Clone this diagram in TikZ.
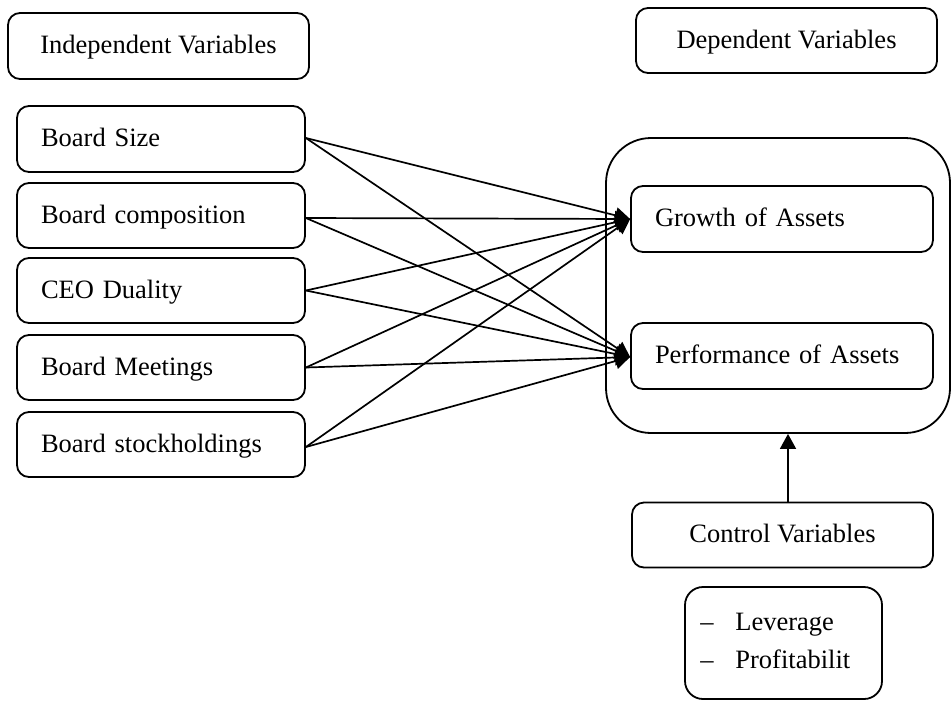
\documentclass[tikz,border=0pt]{standalone}
\usepackage{fontspec}
\setmainfont{Liberation Serif}
\usetikzlibrary{arrows.meta}
\begin{document}
\begin{tikzpicture}[x=0.5pt,y=-0.5pt,
  font=\fontsize{13.25pt}{16pt}\selectfont,
  box/.style={draw, line width=0.9pt, rounded corners=6pt, inner ysep=0pt,
    text height=9.75pt, text depth=2.25pt},
  lbox/.style={box, minimum height=32.5pt, inner xsep=12pt, text width=120pt, align=left},
  rbox/.style={box, minimum height=33pt, inner xsep=12pt, text width=127pt, align=left},
  cbox/.style={box, minimum height=32.5pt, minimum width=150.5pt, align=center},
  link/.style={line width=0.85pt, -{Triangle[length=7.5pt,width=8pt]}}]
\useasboundingbox (0,0) rectangle (951,702);

% column headings
\node[cbox, minimum height=33pt] (indep) at (158.5,46) {Independent Variables};
\node[cbox] (dephead) at (786.5,40.5) {Dependent Variables};

% independent variables
\node[lbox, minimum height=33pt] (bsize) at (161,139) {Board Size};
\node[lbox] (bcomp) at (161,215.5) {Board composition};
\node[lbox] (ceo)   at (161,290.5) {CEO Duality};
\node[lbox] (bmeet) at (161,367.5) {Board Meetings};
\node[lbox] (bstock) at (161,444.5) {Board stockholdings};

% dependent variables and their enclosing frame
\node[draw, line width=0.9pt, rounded corners=22.5pt, minimum width=172pt,
  minimum height=147.5pt] (frame) at (778,285.5) {};
\node[rbox] (growth) at (782,219) {Growth of Assets};
\node[rbox] (perf)   at (782,356) {Performance of Assets};

% control variables
\node[cbox] (ctrl) at (782.5,535) {Control Variables};
\node[draw, line width=0.9pt, rounded corners=9pt, minimum width=98.5pt,
  minimum height=56pt] (ctrllist) at (783.5,643) {};
\node[anchor=base west, inner sep=0pt] (lev) at (700,630)
  {\makebox[17.5pt][l]{–}Leverage};
\node[anchor=base west, inner sep=0pt] (prof) at (700,668)
  {\makebox[17.5pt][l]{–}Profitabilit};

% links from each independent variable to both outcomes
\foreach \src/\dy in {bsize/0.5pt, bcomp/-1.25pt, ceo/0pt, bmeet/0pt, bstock/-1.25pt} {
  \draw[link] ([yshift=\dy]\src.east) -- (growth.west);
  \draw[link] ([yshift=\dy]\src.east) -- ([yshift=-0.5pt]perf.west);
}

% control variables feed the outcome frame
\coordinate (ctop) at ([xshift=2.75pt]ctrl.north);
\draw[link] (ctop) -- (ctop |- frame.south);
\end{tikzpicture}
\end{document}
